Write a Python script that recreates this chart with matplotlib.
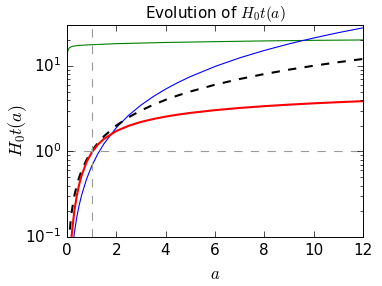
import numpy as np
import matplotlib
matplotlib.use("Agg")
import matplotlib.pyplot as plt

plt.style.use("classic")
plt.rcParams["figure.facecolor"] = "white"
plt.rcParams["savefig.facecolor"] = "white"

# scale factor samples
a = [0.05, 0.1, 0.15, 0.2, 0.3, 0.4, 0.5, 0.6, 0.8, 1.0, 1.25, 1.5, 2.0, 2.5,
     3.0, 3.5, 4.0, 4.5, 5.0, 6.0, 7.0, 8.0, 9.0, 10.0, 11.0, 12.0]

# matter only
t_blue = [0.0075, 0.021, 0.039, 0.060, 0.110, 0.169, 0.236, 0.310, 0.477, 0.667,
          0.932, 1.225, 1.886, 2.635, 3.464, 4.365, 5.333, 6.364, 7.454, 9.798,
          12.35, 15.08, 18.0, 21.08, 24.32, 27.71]
# empty universe
t_black = [0.05, 0.1, 0.15, 0.2, 0.3, 0.4, 0.5, 0.6, 0.8, 1.0, 1.25, 1.5, 2.0, 2.5,
           3.0, 3.5, 4.0, 4.5, 5.0, 6.0, 7.0, 8.0, 9.0, 10.0, 11.0, 12.0]
# matter + lambda
t_red = [0.0136, 0.0385, 0.0706, 0.1085, 0.198, 0.301, 0.412, 0.527, 0.753, 0.964,
         1.197, 1.399, 1.729, 1.990, 2.206, 2.389, 2.548, 2.689, 2.814, 3.032,
         3.216, 3.375, 3.516, 3.642, 3.756, 3.860]

a_green = [0.0, 0.02, 0.05, 0.1, 0.2, 0.3, 0.5, 1.0, 2.0, 3.0, 4.0, 6.0, 8.0, 10.0, 12.0]
t_green = [12.8, 14.0, 15.3, 16.2, 16.8, 17.0, 17.3, 17.6, 18.1, 18.4, 18.7, 19.1,
           19.5, 19.8, 20.0]

fig = plt.figure(figsize=(3.82, 2.86), dpi=100)
ax = fig.add_axes([0.175, 0.171, 0.775, 0.742])

ax.plot(a_green, t_green, color="g", lw=0.8)
ax.plot(a, t_blue, color="b", lw=0.8)
ax.plot(a, t_black, "k--", lw=1.5)
ax.plot(a, t_red, color="r", lw=1.5)
ax.axhline(1, color="0.6", ls="--", lw=0.8)
ax.axvline(1, color="0.6", ls="--", lw=0.8)

ax.set_yscale("log")
ax.set_xlim(0, 12)
ax.set_ylim(0.1, 30)
ax.set_xticks(np.arange(0, 13, 2))
ax.tick_params(labelsize=11)
for s in ax.spines.values():
    s.set_linewidth(0.7)

ax.set_title("Evolution of $H_0t(a)$", fontsize=11)
ax.set_xlabel("$a$", fontsize=12)
ax.set_ylabel("$H_0t(a)$", fontsize=13, labelpad=-3)

fig.savefig("out.png", dpi=100)
